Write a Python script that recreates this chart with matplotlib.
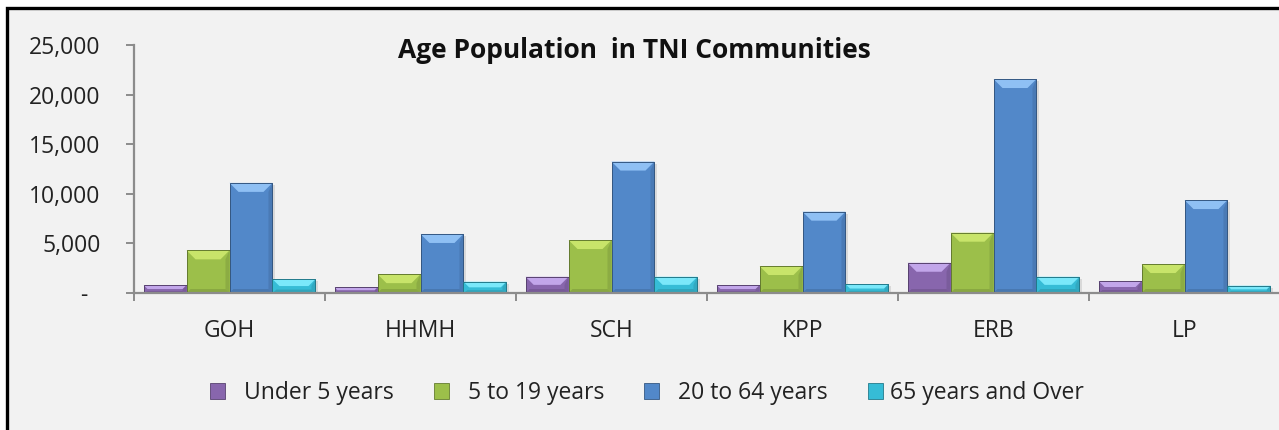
import matplotlib
matplotlib.use('Agg')
import matplotlib.pyplot as plt
from matplotlib.patches import Polygon, Rectangle, Patch
from matplotlib.ticker import FuncFormatter
import numpy as np

plt.rcParams['font.family'] = ['Open Sans', 'DejaVu Sans']

communities = ['GOH', 'HHMH', 'SCH', 'KPP', 'ERB', 'LP']
age_groups = ['Under 5 years', '5 to 19 years', '20 to 64 years', '65 years and Over']
under_5 = [800, 570, 1640, 800, 3050, 1210]
age_5_19 = [4300, 1900, 5340, 2720, 6080, 2920]
age_20_64 = [11100, 5950, 13250, 8200, 21570, 9370]
age_65_over = [1400, 1140, 1640, 900, 1640, 740]
series = [under_5, age_5_19, age_20_64, age_65_over]

# body colour, top bevel colour
colors = ['#8866ad', '#9cbf4a', '#5288c9', '#36bcd6']
tops = ['#c2a6ea', '#c8e46a', '#8fc0f4', '#7ae8fa']


def shade(c, f):
    r, g, b = matplotlib.colors.to_rgb(c)
    if f < 0:
        return (r * (1 + f), g * (1 + f), b * (1 + f))
    return (r + (1 - r) * f, g + (1 - g) * f, b + (1 - b) * f)


fig = plt.figure(figsize=(12.79, 4.30), dpi=100, facecolor='white')
W, H = 1279, 430

# chart area with black frame (runs off the right and bottom edges)
fig.add_artist(Rectangle((6.5 / W, -0.05), 1.1, (H - 7.5) / H + 0.05,
                         transform=fig.transFigure, facecolor='#f2f2f2',
                         edgecolor='black', linewidth=2.4, zorder=0))

ax = fig.add_axes([134 / W, 137 / H, 1146 / W, 248 / H])
ax.set_facecolor('none')
ax.set_xlim(-0.5, len(communities) - 0.5)
ax.set_ylim(0, 25000)

# data units per pixel, used for the bevel size
dx_px = (len(communities)) / 1146
dy_px = 25000 / 248
bevel = 9

x = np.arange(len(communities))
width = 0.225
offsets = (np.arange(4) - 1.5) * width

for k, vals in enumerate(series):
    bars = ax.bar(x + offsets[k], vals, width, color=colors[k],
                  edgecolor=shade(colors[k], -0.35), linewidth=0.6,
                  label=age_groups[k], zorder=3)
    for bar in bars:
        x0 = bar.get_x()
        x1 = x0 + bar.get_width()
        h = bar.get_height()
        by = min(bevel * dy_px, h / 2)
        bx = min(bevel * dx_px, by / dy_px * dx_px)
        bb = min(4 * dy_px, h / 4)
        bs = min(4 * dx_px, bx)
        # drop shadow
        ax.add_patch(Rectangle((x0 + 3 * dx_px, -2 * dy_px), x1 - x0, h,
                               facecolor='#000000', alpha=0.10,
                               linewidth=0, zorder=2))
        # right side
        ax.add_patch(Polygon([(x1, h), (x1, 0), (x1 - bs, bb), (x1 - bs, h - by)],
                             closed=True, facecolor=shade(colors[k], -0.10),
                             linewidth=0, zorder=4))
        # bottom
        ax.add_patch(Polygon([(x0, 0), (x1, 0), (x1 - bs, bb), (x0 + bs, bb)],
                             closed=True, facecolor=shade(colors[k], -0.12),
                             linewidth=0, zorder=4))
        # top bevel
        ax.add_patch(Polygon([(x0, h), (x1, h), (x1 - bx, h - by), (x0 + bx, h - by)],
                             closed=True, facecolor=tops[k],
                             linewidth=0, zorder=4))
        # outline on top
        ax.add_patch(Rectangle((x0, 0), x1 - x0, h, facecolor='none',
                               edgecolor=shade(colors[k], -0.35),
                               linewidth=0.7, zorder=5))

for side in ['top', 'right']:
    ax.spines[side].set_visible(False)
for side in ['left', 'bottom']:
    ax.spines[side].set_color('#8c8c8c')
    ax.spines[side].set_linewidth(1.6)
    ax.spines[side].set_zorder(6)

ax.set_yticks(np.arange(0, 25001, 5000))
ax.yaxis.set_major_formatter(FuncFormatter(lambda v, p: '-  ' if v == 0 else f'{v:,.0f}'))
ax.tick_params(axis='y', length=6, width=1.4, color='#8c8c8c', pad=18,
               labelsize=16.5, labelcolor='#222222')

ax.set_xticks(x)
ax.set_xticklabels(communities)
ax.set_xticks(np.arange(len(communities) + 1) - 0.5, minor=True)
ax.tick_params(axis='x', which='major', length=0, pad=19,
               labelsize=16.5, labelcolor='#222222')
ax.tick_params(axis='x', which='minor', length=6, width=1.4, color='#8c8c8c')

fig.text(634 / W, 1 - 51 / H, 'Age Population  in TNI Communities',
         ha='center', va='center', fontsize=19, fontweight='bold', color='#111111')

handles = [Patch(facecolor=colors[k], edgecolor=shade(colors[k], -0.35), linewidth=0.6)
           for k in range(4)]
labels = ['  ' + age_groups[0], '  ' + age_groups[1], '  ' + age_groups[2], age_groups[3]]
fig.legend(handles, labels, loc='center', bbox_to_anchor=(647 / W, 1 - 393 / H),
           ncol=4, frameon=False, fontsize=16.5, handlelength=0.65, handleheight=0.65,
           handletextpad=0.3, columnspacing=1.75, labelcolor='#222222')

fig.savefig('out.png', dpi=100, facecolor='white')
